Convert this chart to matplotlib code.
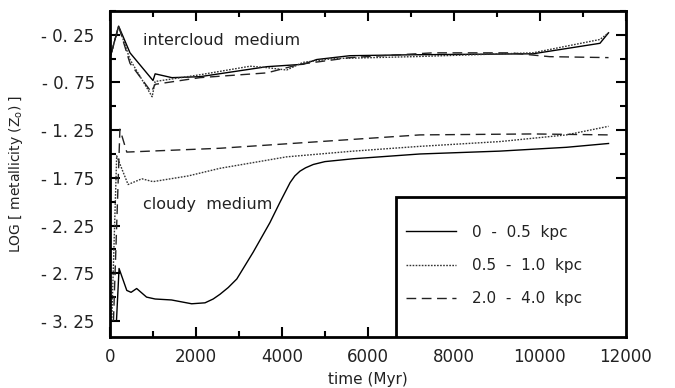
import numpy as np
import matplotlib.pyplot as plt
from matplotlib.patches import Rectangle
from matplotlib.ticker import MultipleLocator

# intercloud medium
t_ic_solid = [20, 200, 465, 1000, 1050, 1440, 2090, 3650, 4490, 4810, 5580, 7050, 9840, 11400, 11600]
y_ic_solid = [-0.46, -0.16, -0.44, -0.73, -0.66, -0.70, -0.69, -0.585, -0.56, -0.51, -0.47, -0.46, -0.45, -0.34, -0.23]

t_ic_dot = [20, 200, 465, 980, 1050, 2090, 3260, 3650, 4110, 4490, 5190, 7050, 9840, 11400, 11600]
y_ic_dot = [-0.46, -0.16, -0.51, -0.90, -0.74, -0.67, -0.58, -0.595, -0.62, -0.54, -0.50, -0.48, -0.44, -0.30, -0.23]

t_ic_dash = [20, 200, 465, 960, 1050, 2090, 3650, 4420, 5580, 6740, 7510, 9300, 10230, 11600]
y_ic_dash = [-0.46, -0.16, -0.55, -0.85, -0.77, -0.70, -0.65, -0.56, -0.49, -0.46, -0.44, -0.44, -0.48, -0.49]

# cloudy medium
t_cl_solid = [0, 150, 210, 390, 490, 620, 850, 1050, 1430, 1900, 2210, 2400, 2560, 2750, 2950, 3330,
              3720, 3950, 4190, 4300, 4420, 4550, 4730, 5000, 5660, 7210, 9070, 10620, 11600]
y_cl_solid = [-3.25, -3.25, -2.70, -2.93, -2.95, -2.91, -3.00, -3.02, -3.03, -3.07, -3.06, -3.02, -2.97, -2.90, -2.81, -2.53,
              -2.22, -2.01, -1.80, -1.73, -1.68, -1.645, -1.61, -1.58, -1.55, -1.50, -1.47, -1.43, -1.39]

t_cl_dot = [40, 155, 420, 740, 1000, 1820, 2560, 4110, 5660, 7210, 9070, 10620, 11600]
y_cl_dot = [-3.25, -1.52, -1.82, -1.76, -1.79, -1.73, -1.65, -1.53, -1.47, -1.42, -1.37, -1.30, -1.21]

t_cl_dash = [80, 230, 390, 2560, 7210, 9840, 11600]
y_cl_dash = [-3.25, -1.24, -1.48, -1.44, -1.30, -1.29, -1.30]

labels = ['0  -  0.5  kpc', '0.5  -  1.0  kpc', '2.0  -  4.0  kpc']
yticks = [-0.25, -0.75, -1.25, -1.75, -2.25, -2.75, -3.25]
xticks = [0, 2000, 4000, 6000, 8000, 10000, 12000]

txt = '#222222'
plt.rcParams['font.family'] = 'DejaVu Sans'

fig = plt.figure(figsize=(6.75, 3.88), dpi=100)
ax = fig.add_axes([0.163, 0.131, 0.764, 0.841])

sol = dict(color='black', lw=1.0, linestyle='-')
dot = dict(color='#333333', lw=1.0, linestyle=(0, (1.2, 1.0)))
dsh = dict(color='#222222', lw=1.0, linestyle=(0, (7, 4)))

h1, = ax.plot(t_ic_solid, y_ic_solid, **sol)
h2, = ax.plot(t_ic_dot, y_ic_dot, **dot)
h3, = ax.plot(t_ic_dash, y_ic_dash, **dsh)
ax.plot(t_cl_solid, y_cl_solid, **sol)
ax.plot(t_cl_dot, y_cl_dot, **dot)
ax.plot(t_cl_dash, y_cl_dash, **dsh)

ax.set_xlim(0, 12000)
ax.set_ylim(-3.42, 0.0)

ax.set_xticks(xticks)
ax.set_xticklabels([str(v) for v in xticks])
ax.xaxis.set_minor_locator(MultipleLocator(1000))
ax.set_yticks(yticks)
ax.set_yticklabels(['- %s' % ('%.2f' % abs(v)).replace('.', '. ') for v in yticks])
ax.yaxis.set_minor_locator(MultipleLocator(0.25))

ax.tick_params(which='both', direction='in', top=True, right=True, width=1.5,
               labelsize=12, labelcolor=txt)
ax.tick_params(which='major', length=7)
ax.tick_params(which='minor', length=4)
ax.tick_params(axis='y', pad=11)
ax.tick_params(axis='x', pad=8)
for s in ax.spines.values():
    s.set_linewidth(2)

ax.set_xlabel('time (Myr)', fontsize=11, color=txt, labelpad=4)
ax.set_ylabel('LOG [ metallicity (Z$_{\\rm o}$) ]', fontsize=10, color=txt, labelpad=12)

ax.text(0.064, 0.909, 'intercloud  medium', transform=ax.transAxes, fontsize=11.5,
        color=txt, va='center', ha='left')
ax.text(0.064, 0.408, 'cloudy  medium', transform=ax.transAxes, fontsize=11.5,
        color=txt, va='center', ha='left')

# legend box in the lower right corner
ax.add_patch(Rectangle((0.554, 0.0), 0.446, 0.43, transform=ax.transAxes,
                       facecolor='white', edgecolor='black', lw=2, zorder=5))
leg = ax.legend([h1, h2, h3], labels, loc='center left',
                bbox_to_anchor=(0.562, 0.005, 0.43, 0.43), frameon=False,
                fontsize=11, handlelength=3.3, handletextpad=1.0, labelspacing=1.2,
                borderaxespad=0)
leg.set_zorder(6)
for t in leg.get_texts():
    t.set_color(txt)

fig.savefig('out.png', dpi=100)
